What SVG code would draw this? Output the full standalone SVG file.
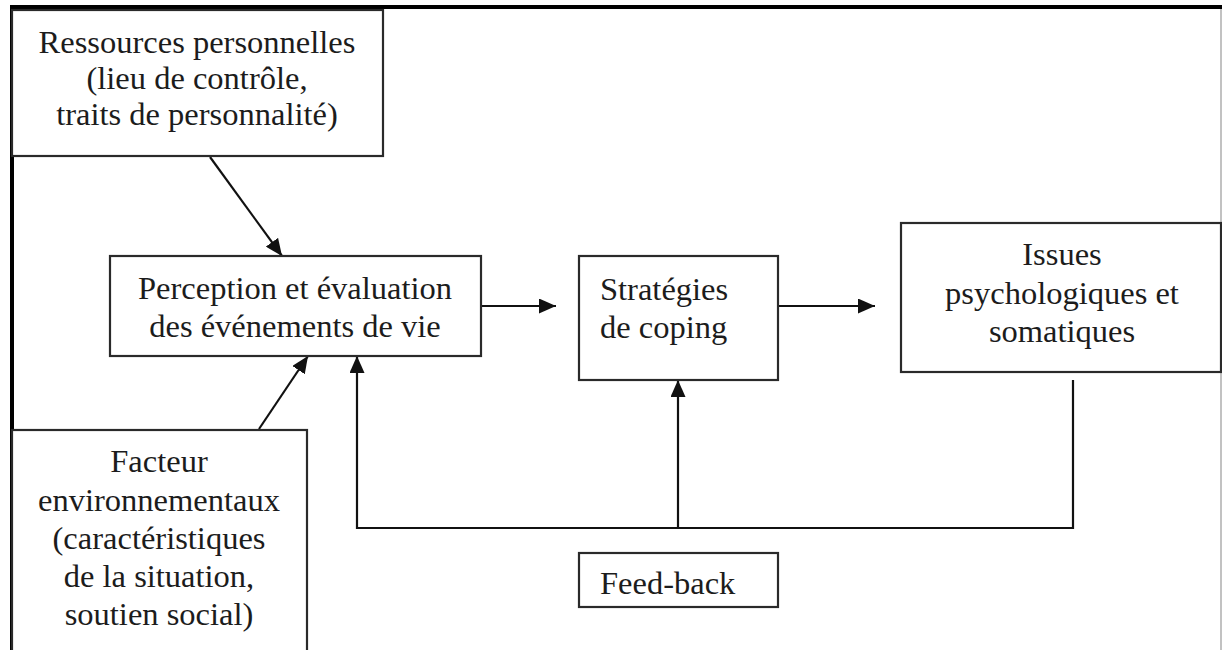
<svg xmlns="http://www.w3.org/2000/svg" width="1222" height="650" viewBox="0 0 1222 650">
  <defs>
    <marker id="arrow" viewBox="0 0 17 15" refX="17" refY="7.5" markerWidth="17" markerHeight="15" orient="auto" markerUnits="userSpaceOnUse">
      <path d="M0 0 L17 7.5 L0 15 Z" fill="#111"/>
    </marker>
    <style>
      .box { fill: #fff; stroke: #2a2a2a; stroke-width: 2.2; }
      .lbl { font-family: "Liberation Serif", "Times New Roman", serif; font-size: 32.5px; fill: #1c1c1c; }
      .c { text-anchor: middle; }
      .wire { fill: none; stroke: #111; stroke-width: 2.2; }
    </style>
  </defs>

  <rect x="0" y="0" width="1222" height="650" fill="#fff"/>

  <!-- page frame -->
  <g id="frame">
    <line x1="10" y1="7" x2="1222" y2="7" stroke="#000" stroke-width="4"/>
    <line x1="12" y1="5" x2="12" y2="650" stroke="#000" stroke-width="4"/>
    <line x1="1221" y1="9" x2="1221" y2="650" stroke="#999" stroke-width="1.2"/>
  </g>

  <!-- connectors -->
  <g id="connectors">
    <line class="wire" x1="210" y1="157" x2="282" y2="256" marker-end="url(#arrow)"/>
    <line class="wire" x1="259" y1="429" x2="308" y2="356" marker-end="url(#arrow)"/>
    <line class="wire" x1="481" y1="306" x2="556" y2="306" marker-end="url(#arrow)"/>
    <line class="wire" x1="778" y1="306" x2="875" y2="306" marker-end="url(#arrow)"/>
    <path class="wire" d="M1073 380 V528 H357 V356" marker-end="url(#arrow)"/>
    <line class="wire" x1="678" y1="528" x2="678" y2="380" marker-end="url(#arrow)"/>
  </g>

  <g id="ressources">
    <rect class="box" x="12" y="10" width="371" height="146"/>
    <text class="lbl c" x="197" y="53">Ressources personnelles</text>
    <text class="lbl c" x="197" y="89">(lieu de contrôle,</text>
    <text class="lbl c" x="197" y="125">traits de personnalité)</text>
  </g>

  <g id="perception">
    <rect class="box" x="110" y="256" width="371" height="100"/>
    <text class="lbl c" x="295" y="299">Perception et évaluation</text>
    <text class="lbl c" x="295" y="337">des événements de vie</text>
  </g>

  <g id="strategies">
    <rect class="box" x="579" y="256" width="199" height="124"/>
    <text class="lbl" x="600" y="300">Stratégies</text>
    <text class="lbl" x="600" y="338">de coping</text>
  </g>

  <g id="issues">
    <rect class="box" x="901" y="223" width="320" height="149"/>
    <text class="lbl c" x="1062" y="265">Issues</text>
    <text class="lbl c" x="1062" y="304">psychologiques et</text>
    <text class="lbl c" x="1062" y="342">somatiques</text>
  </g>

  <g id="facteur">
    <rect class="box" x="12" y="430" width="295" height="240"/>
    <text class="lbl c" x="159" y="472">Facteur</text>
    <text class="lbl c" x="159" y="511">environnementaux</text>
    <text class="lbl c" x="159" y="549">(caractéristiques</text>
    <text class="lbl c" x="159" y="587">de la situation,</text>
    <text class="lbl c" x="159" y="625">soutien social)</text>
  </g>

  <g id="feedback">
    <rect class="box" x="579" y="553" width="199" height="54"/>
    <text class="lbl" x="600" y="594">Feed-back</text>
  </g>
</svg>
